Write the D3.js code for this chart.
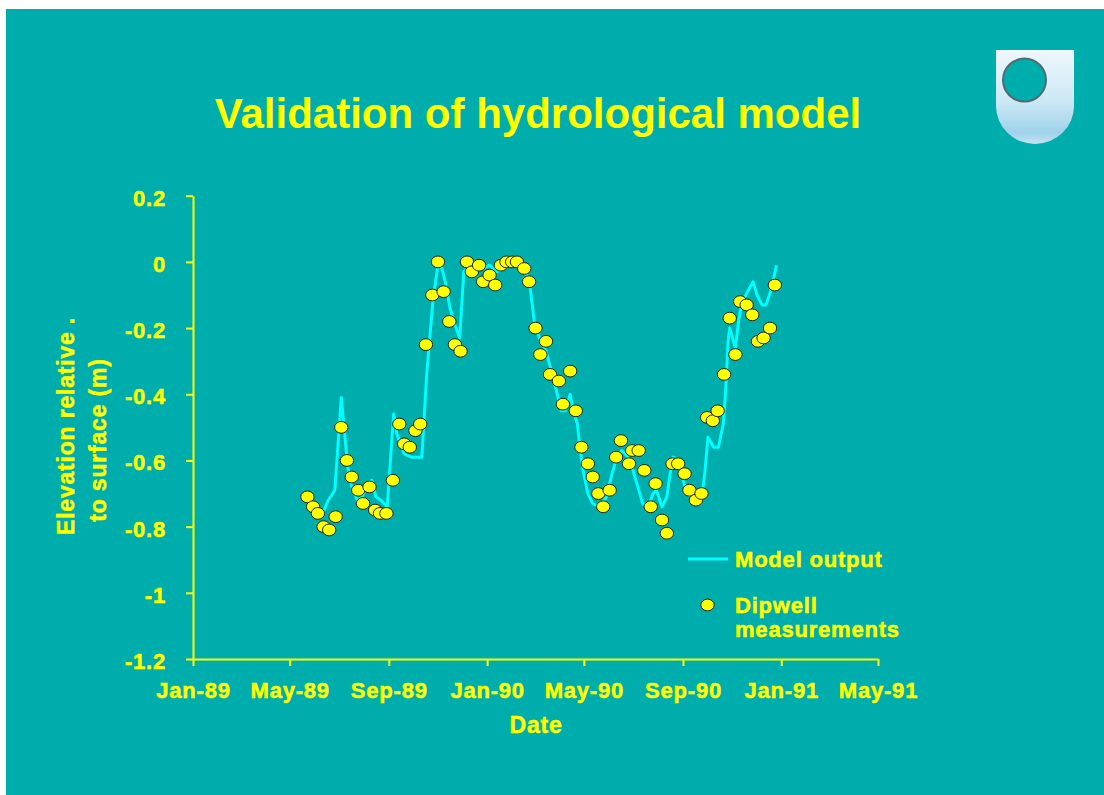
<!DOCTYPE html>
<html lang="en">
<head>
    <meta charset="UTF-8">
    <title>Validation of hydrological model</title>
    <script src="https://cdn.jsdelivr.net/npm/d3@7"></script>
    <style>
        html, body {
            margin: 0;
            padding: 0;
            background: #ffffff;
            overflow: hidden;
        }
        text {
            font-family: "Liberation Sans", Arial, sans-serif;
            font-weight: bold;
            fill: #ffff00;
        }
        .small {
            font-size: 22px;
            letter-spacing: 0.8px;
            stroke: #ffff00;
            stroke-width: 0.5px;
        }
    </style>
</head>
<body>
</body>
<script>
    // model output
    let modelDates = [
        '1989-06-09', '1989-06-18', '1989-06-26', '1989-07-04', '1989-07-09', '1989-07-12', '1989-07-17',
        '1989-07-24', '1989-07-30', '1989-08-05', '1989-08-11', '1989-08-16', '1989-08-22', '1989-08-30',
        '1989-09-07', '1989-09-11', '1989-09-20', '1989-09-29', '1989-10-05', '1989-10-12', '1989-10-18',
        '1989-10-26', '1989-11-01', '1989-11-06', '1989-11-10', '1989-11-16', '1989-11-22', '1989-11-28',
        '1989-12-03', '1989-12-07', '1989-12-17', '1989-12-27', '1990-01-04', '1990-01-13', '1990-01-21',
        '1990-01-31', '1990-02-10', '1990-02-17', '1990-02-23', '1990-03-01', '1990-03-07', '1990-03-15',
        '1990-03-23', '1990-03-27', '1990-04-03', '1990-04-08', '1990-04-14', '1990-04-18', '1990-04-23',
        '1990-04-26', '1990-04-30', '1990-05-06', '1990-05-12', '1990-05-20', '1990-05-29', '1990-06-05',
        '1990-06-11', '1990-06-17', '1990-06-25', '1990-07-01', '1990-07-07', '1990-07-13', '1990-07-20',
        '1990-07-26', '1990-07-30', '1990-08-06', '1990-08-12', '1990-08-16', '1990-08-20', '1990-08-25',
        '1990-08-30', '1990-09-06', '1990-09-16', '1990-09-24', '1990-09-28', '1990-10-02', '1990-10-09',
        '1990-10-15', '1990-10-21', '1990-10-24', '1990-10-27', '1990-10-29', '1990-11-05', '1990-11-09',
        '1990-11-13', '1990-11-18', '1990-11-27', '1990-12-02', '1990-12-08', '1990-12-13', '1990-12-20',
        '1990-12-26'
    ];
    let modelValues = [
        -0.77, -0.72, -0.69, -0.41, -0.54, -0.62, -0.68,
        -0.72, -0.71, -0.67, -0.66, -0.71, -0.72, -0.74,
        -0.46, -0.52, -0.58, -0.59, -0.59, -0.59, -0.34,
        -0.11, -0.01, -0.02, -0.06, -0.14, -0.19, -0.23,
        -0.03, -0.02, -0.02, -0.02, -0.01, -0.03, -0.02,
        -0.01, -0.01, -0.02, -0.07, -0.19, -0.23, -0.27,
        -0.34, -0.38, -0.45, -0.45, -0.40, -0.45, -0.49,
        -0.56, -0.63, -0.70, -0.73, -0.74, -0.71, -0.64,
        -0.59, -0.57, -0.59, -0.63, -0.68, -0.73, -0.74,
        -0.70, -0.69, -0.74, -0.71, -0.64, -0.59, -0.60,
        -0.64, -0.70, -0.72, -0.72, -0.64, -0.53, -0.56,
        -0.56, -0.49, -0.39, -0.24, -0.20, -0.26, -0.18,
        -0.12, -0.10, -0.06, -0.10, -0.13, -0.13, -0.08,
        -0.01
    ];

    // dipwell measurements (weekly)
    let dipDates = [
        '1989-05-23', '1989-05-30', '1989-06-05', '1989-06-12', '1989-06-19', '1989-06-27', '1989-07-04',
        '1989-07-11', '1989-07-17', '1989-07-25', '1989-07-31', '1989-08-08', '1989-08-15', '1989-08-21',
        '1989-08-29', '1989-09-06', '1989-09-14', '1989-09-20', '1989-09-27', '1989-10-04', '1989-10-10',
        '1989-10-17', '1989-10-25', '1989-11-01', '1989-11-08', '1989-11-15', '1989-11-22', '1989-11-29',
        '1989-12-07', '1989-12-13', '1989-12-22', '1989-12-27', '1990-01-04', '1990-01-11', '1990-01-18',
        '1990-01-25', '1990-02-01', '1990-02-07', '1990-02-16', '1990-02-22', '1990-03-02', '1990-03-08',
        '1990-03-15', '1990-03-20', '1990-03-31', '1990-04-05', '1990-04-14', '1990-04-21', '1990-04-28',
        '1990-05-06', '1990-05-12', '1990-05-19', '1990-05-25', '1990-06-02', '1990-06-10', '1990-06-16',
        '1990-06-26', '1990-06-30', '1990-07-08', '1990-07-15', '1990-07-23', '1990-07-29', '1990-08-06',
        '1990-08-12', '1990-08-19', '1990-08-26', '1990-09-03', '1990-09-09', '1990-09-17', '1990-09-24',
        '1990-10-01', '1990-10-08', '1990-10-14', '1990-10-22', '1990-10-29', '1990-11-05', '1990-11-11',
        '1990-11-19', '1990-11-26', '1990-12-03', '1990-12-10', '1990-12-18', '1990-12-24'
    ];
    let dipValues = [
        -0.71, -0.74, -0.76, -0.80, -0.81, -0.77, -0.50,
        -0.60, -0.65, -0.69, -0.73, -0.68, -0.75, -0.76,
        -0.76, -0.66, -0.49, -0.55, -0.56, -0.51, -0.49,
        -0.25, -0.10, 0.00, -0.09, -0.18, -0.25, -0.27,
        0.00, -0.03, -0.01, -0.06, -0.04, -0.07, -0.01,
        0.00, 0.00, 0.00, -0.02, -0.06, -0.20, -0.28,
        -0.24, -0.34, -0.36, -0.43, -0.33, -0.45, -0.56,
        -0.61, -0.65, -0.70, -0.74, -0.69, -0.59, -0.54,
        -0.61, -0.57, -0.57, -0.63, -0.74, -0.67, -0.78,
        -0.82, -0.61, -0.61, -0.64, -0.69, -0.72, -0.70,
        -0.47, -0.48, -0.45, -0.34, -0.17, -0.28, -0.12,
        -0.13, -0.16, -0.24, -0.23, -0.20, -0.07
    ];

    let yTicks = [0.2, 0, -0.2, -0.4, -0.6, -0.8, -1, -1.2];
    let xTicks = ['1989-01-01', '1989-05-01', '1989-09-01', '1990-01-01',
        '1990-05-01', '1990-09-01', '1991-01-01', '1991-05-01'];

    let width = 1104;
    let height = 795;
    let teal = '#00adad';
    let parse = d3.timeParse('%Y-%m-%d');

    let svg = d3.select('body')
        .append('svg')
        .attr('width', width)
        .attr('height', height);

    // slide background
    svg.append('rect')
        .attr('x', 6)
        .attr('y', 9)
        .attr('width', width - 6)
        .attr('height', height - 9)
        .attr('fill', teal);

    // logo
    let defs = svg.append('defs');
    let grad = defs.append('linearGradient')
        .attr('id', 'shield')
        .attr('x1', 0).attr('y1', 0).attr('x2', 0).attr('y2', 1);
    grad.append('stop').attr('offset', '0%').attr('stop-color', '#eef7fb');
    grad.append('stop').attr('offset', '55%').attr('stop-color', '#cce8f5');
    grad.append('stop').attr('offset', '88%').attr('stop-color', '#9fd2ea');
    grad.append('stop').attr('offset', '100%').attr('stop-color', '#c4e4f2');

    svg.append('path')
        .attr('d', 'M996,50 H1074 V106 A39 38 0 0 1 996 106 Z')
        .attr('fill', 'url(#shield)');
    svg.append('circle')
        .attr('cx', 1024.5)
        .attr('cy', 80)
        .attr('r', 21.5)
        .attr('fill', teal)
        .attr('stroke', '#4d6c72')
        .attr('stroke-width', 2);

    // title
    svg.append('text')
        .attr('x', 538)
        .attr('y', 128)
        .attr('text-anchor', 'middle')
        .style('font-size', '42px')
        .text('Validation of hydrological model');

    // scales
    let x = d3.scaleTime()
        .domain([parse(xTicks[0]), parse(xTicks[xTicks.length - 1])])
        .range([193, 878]);
    let y = d3.scaleLinear()
        .domain([-1.2, 0.2])
        .range([659, 195.7]);

    // axes
    let xAxis = svg.append('g')
        .attr('transform', `translate(0,${y(-1.2)})`)
        .call(d3.axisBottom(x)
            .tickValues(xTicks.map(parse))
            .tickFormat(d3.timeFormat('%b-%y'))
            .tickSize(7)
            .tickSizeOuter(0));

    let yAxis = svg.append('g')
        .attr('transform', `translate(${x(parse(xTicks[0]))},0)`)
        .call(d3.axisLeft(y)
            .tickValues(yTicks)
            .tickFormat(d => String(+d.toFixed(1)))
            .tickSize(7)
            .tickSizeOuter(0));

    [xAxis, yAxis].forEach(g => {
        g.select('.domain').attr('stroke', '#ffff00').attr('stroke-width', 2);
        g.selectAll('.tick line').attr('stroke', '#ffff00').attr('stroke-width', 2);
        g.selectAll('.tick text').classed('small', true).attr('fill', '#ffff00');
    });
    xAxis.selectAll('.tick text').attr('y', 39).attr('dy', 0);
    yAxis.selectAll('.tick text').attr('x', -27).attr('dy', '0.43em');

    // axis titles
    svg.append('text')
        .classed('small', true)
        .attr('x', 536)
        .attr('y', 733)
        .attr('text-anchor', 'middle')
        .style('font-size', '23px')
        .text('Date');

    svg.append('text')
        .classed('small', true)
        .attr('transform', 'translate(74,426) rotate(-90)')
        .attr('text-anchor', 'middle')
        .style('font-size', '23px')
        .text('Elevation relative .');
    svg.append('text')
        .classed('small', true)
        .attr('transform', 'translate(106,440) rotate(-90)')
        .attr('text-anchor', 'middle')
        .style('font-size', '23px')
        .text('to surface (m)');

    // model line
    let model = modelDates.map((d, i) => ({date: parse(d), value: modelValues[i]}));
    let dips = dipDates.map((d, i) => ({date: parse(d), value: dipValues[i]}));

    let line = d3.line()
        .x(d => x(d.date))
        .y(d => y(d.value));

    svg.append('path')
        .datum(model)
        .attr('d', line)
        .attr('fill', 'none')
        .attr('stroke', '#00ffff')
        .attr('stroke-width', 3)
        .attr('stroke-linejoin', 'round');

    // dipwell points
    svg.append('g')
        .selectAll('ellipse')
        .data(dips)
        .enter().append('ellipse')
        .attr('cx', d => x(d.date))
        .attr('cy', d => y(d.value))
        .attr('rx', 6.7)
        .attr('ry', 5.9)
        .attr('fill', '#ffff00')
        .attr('stroke', '#222222')
        .attr('stroke-width', 1);

    // legend
    let legend = svg.append('g');
    legend.append('line')
        .attr('x1', 688).attr('x2', 728)
        .attr('y1', 559).attr('y2', 559)
        .attr('stroke', '#00ffff')
        .attr('stroke-width', 3);
    legend.append('text')
        .classed('small', true)
        .attr('x', 735)
        .attr('y', 567)
        .text('Model output');
    legend.append('ellipse')
        .attr('cx', 707.5).attr('cy', 605)
        .attr('rx', 6.7).attr('ry', 5.9)
        .attr('fill', '#ffff00')
        .attr('stroke', '#222222')
        .attr('stroke-width', 1);
    legend.append('text')
        .classed('small', true)
        .attr('x', 735)
        .attr('y', 613)
        .text('Dipwell');
    legend.append('text')
        .classed('small', true)
        .attr('x', 735)
        .attr('y', 637)
        .text('measurements');
</script>
</html>
